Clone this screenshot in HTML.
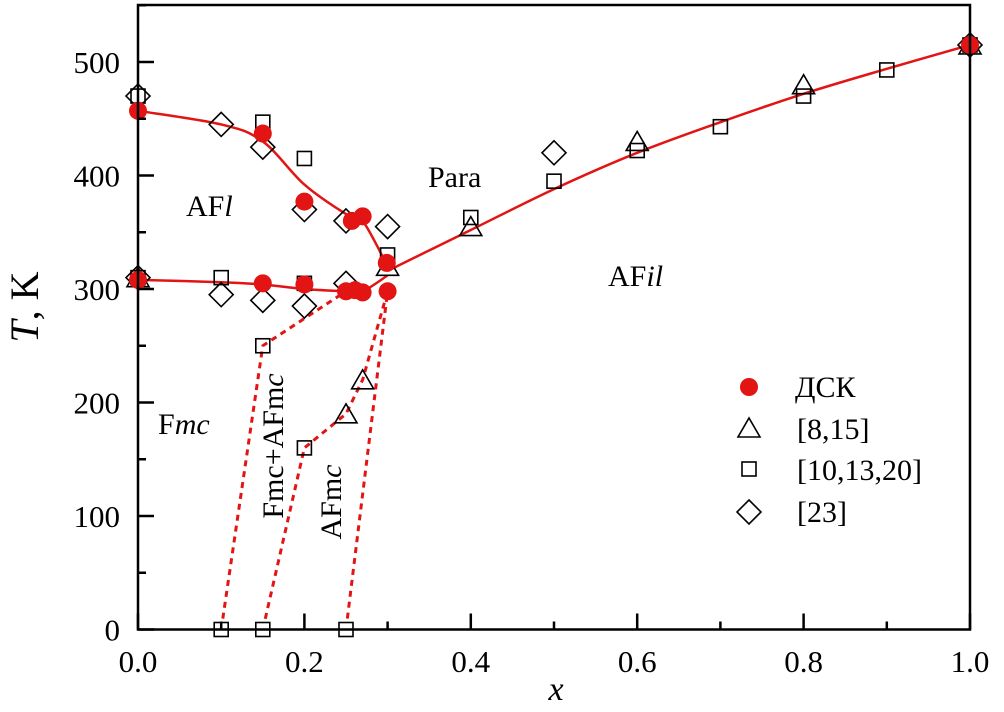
<!DOCTYPE html>
<html><head><meta charset="utf-8"><style>
html,body{margin:0;padding:0;background:#fff;}
svg, svg *{font-family:"Liberation Serif","Noto Serif CJK SC","DejaVu Serif",serif !important;}
</style></head><body>
<svg id="chart" width="1004" height="707" viewBox="0 0 1004 707" xmlns="http://www.w3.org/2000/svg">
<g id="marks"></g>
<g id="axes"></g>
<text x="428" y="187" font-size="30">Para</text>
<text x="186" y="216" font-size="30">AF<tspan font-style="italic">l</tspan></text>
<text x="608" y="286" font-size="30">AF<tspan font-style="italic">il</tspan></text>
<text x="158" y="434" font-size="30">F<tspan font-style="italic">mc</tspan></text>
<text transform="translate(283,446) rotate(-90)" text-anchor="middle" font-size="30">Fmc+AFm<tspan font-style="italic">c</tspan></text>
<text transform="translate(341,502) rotate(-90)" text-anchor="middle" font-size="30">AFm<tspan font-style="italic">c</tspan></text>
<text transform="translate(38,307) rotate(-90)" text-anchor="middle" font-size="40"><tspan font-style="italic">T</tspan>, K</text>
<text x="556" y="700" text-anchor="middle" font-size="34" font-style="italic">x</text>
<circle cx="749" cy="387" r="9" fill="#e31414"/>
<text x="795" y="397" font-size="30">ДСК</text>
<path d="M738,437 L760,437 L749,418 Z" fill="none" stroke="#000" stroke-width="1.6"/>
<text x="797" y="439" font-size="30">[8,15]</text>
<rect x="742" y="462" width="14" height="14" fill="none" stroke="#000" stroke-width="1.6"/>
<text x="797" y="480" font-size="30">[10,13,20]</text>
<path d="M749,500 L761,512 L749,524 L737,512 Z" fill="none" stroke="#000" stroke-width="1.6"/>
<text x="797" y="522" font-size="30">[23]</text>
</svg>
<script>
const xTicks=[0,0.2,0.4,0.6,0.8,1.0];
const xTickLabels=["0.0","0.2","0.4","0.6","0.8","1.0"];
const yTicks=[0,100,200,300,400,500];
const yTickLabels=["0","100","200","300","400","500"];
const dscX=[0,0,0.15,0.15,0.2,0.2,0.25,0.257,0.261,0.27,0.27,0.299,0.3,1.0];
const dscT=[457,308,437,305,377,304,298,360,299,364,297,323,298,515];
const triX=[0,0.25,0.27,0.3,0.4,0.6,0.8,1.0];
const triT=[310,190,220,320,355,430,480,515];
const sqX=[0,0,0.1,0.15,0.2,0.2,0.3,0.4,0.5,0.6,0.7,0.8,0.9,1.0,0.15,0.2,0.1,0.15,0.25];
const sqT=[470,310,310,447,415,305,330,363,395,422,443,470,493,515,250,160,0,0,0];
const diaX=[0,0,0.1,0.1,0.15,0.15,0.2,0.2,0.25,0.25,0.3,0.5,1.0];
const diaT=[470,310,445,295,425,290,370,285,360,305,355,420,515];
const upperX=[0,0.1,0.15,0.2,0.25,0.27,0.3];
const upperT=[457,445,430,392,366,360,320];
const lowerX=[0,0.1,0.15,0.2,0.25,0.27,0.3];
const lowerT=[308,306,304,300,298,298,312];
const rightX=[0.3,0.4,0.5,0.6,0.7,0.8,0.9,1.0];
const rightT=[316,352,388,420,447,472,494,515];
const dashA_X=[0.1,0.15,0.25];const dashA_T=[0,250,298];
const dashB_X=[0.15,0.2,0.25,0.27,0.3];const dashB_T=[0,160,190,220,298];
const dashC_X=[0.25,0.3];const dashC_T=[0,298];

const NS="http://www.w3.org/2000/svg";
const X0=138,X1=970,Y0=629.5,YS=1.135;
const sx=v=>X0+(X1-X0)*v;
const sy=v=>Y0-v*YS;
const marks=document.getElementById('marks');
const axes=document.getElementById('axes');
function mk(tag,attrs,parent){const e=document.createElementNS(NS,tag);for(const k in attrs)e.setAttribute(k,attrs[k]);parent.appendChild(e);return e;}
function smooth(xs,ts){const p=xs.map((x,i)=>[sx(x),sy(ts[i])]);let d=`M${p[0][0]},${p[0][1]}`;
for(let i=0;i<p.length-1;i++){const p0=p[i-1]||p[i],p1=p[i],p2=p[i+1],p3=p[i+2]||p2;
d+=` C${p1[0]+(p2[0]-p0[0])/6},${p1[1]+(p2[1]-p0[1])/6} ${p2[0]-(p3[0]-p1[0])/6},${p2[1]-(p3[1]-p1[1])/6} ${p2[0]},${p2[1]}`;}return d;}
function poly(xs,ts){return xs.map((x,i)=>(i?'L':'M')+sx(x)+','+sy(ts[i])).join(' ');}
[[dashA_X,dashA_T,'dash-line-a'],[dashB_X,dashB_T,'dash-line-b'],[dashC_X,dashC_T,'dash-line-c']].forEach(([xs,ts,n])=>{
const e=mk('path',{d:poly(xs,ts),fill:'none',stroke:'#e31414','stroke-width':3,'stroke-dasharray':'6,5'},marks);

});
[[upperX,upperT,'upper-boundary-curve'],[lowerX,lowerT,'lower-boundary-curve'],[rightX,rightT,'para-afil-boundary-curve']].forEach(([xs,ts,n])=>{
const e=mk('path',{d:smooth(xs,ts),fill:'none',stroke:'#e31414','stroke-width':2.5},marks);

});
triX.forEach((x,i)=>{const cx=sx(x),cy=sy(triT[i]);
const e=mk('path',{d:`M${cx-11},${cy+9} L${cx+11},${cy+9} L${cx},${cy-10} Z`,fill:'none',stroke:'#000','stroke-width':1.6},marks);

});
sqX.forEach((x,i)=>{const cx=sx(x),cy=sy(sqT[i]);
const e=mk('rect',{x:cx-7,y:cy-7,width:14,height:14,fill:sqT[i]===0?'#fff':'none',stroke:'#000','stroke-width':1.6},marks);

});
diaX.forEach((x,i)=>{const cx=sx(x),cy=sy(diaT[i]);
const e=mk('path',{d:`M${cx},${cy-12} L${cx+12},${cy} L${cx},${cy+12} L${cx-12},${cy} Z`,fill:'none',stroke:'#000','stroke-width':1.6},marks);

});
dscX.forEach((x,i)=>{
const e=mk('circle',{cx:sx(x),cy:sy(dscT[i]),r:9,fill:'#e31414'},marks);

});
const fr=mk('rect',{x:X0,y:5,width:X1-X0,height:Y0-5,fill:'none',stroke:'#000','stroke-width':2.5},axes);


for(let k=0;k<=10;k++){const v=k/10;const x=sx(v);const major=k%2===0;
const t=mk('line',{x1:x,x2:x,y1:Y0,y2:Y0-(major?16:8),stroke:'#000','stroke-width':2.5},axes);

}
xTicks.forEach((v,i)=>{const t=mk('text',{x:sx(v),y:672,'text-anchor':'middle','font-size':31},axes);t.textContent=xTickLabels[i];

});
for(let v=0;v<=550;v+=50){const y=sy(v);const major=v%100===0;
const t=mk('line',{x1:X0,x2:X0+(major?16:8),y1:y,y2:y,stroke:'#000','stroke-width':2.5},axes);

}
yTicks.forEach((v,i)=>{const t=mk('text',{x:120,y:sy(v)+11,'text-anchor':'end','font-size':31},axes);t.textContent=yTickLabels[i];

});
</script>
</body></html>
